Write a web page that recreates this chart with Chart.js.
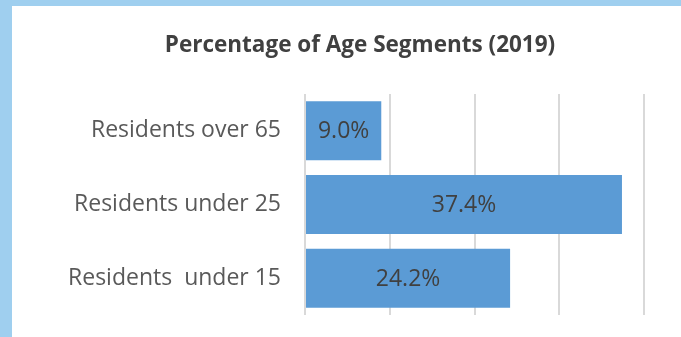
<!DOCTYPE html>
<html>
<head>
<meta charset="utf-8">
<script src="https://cdn.jsdelivr.net/npm/chart.js@4.4.0/dist/chart.umd.min.js"></script>
<style>
  html, body { margin: 0; padding: 0; background: #9fcfef; overflow: hidden; }
  #panel { position: absolute; left: 12px; top: 6px; width: 696px; height: 331px; background: #fff; }
</style>
</head>
<body>
<div id="panel"><canvas id="myChart" width="696" height="331"></canvas></div>
<script>
var chartTitle = 'Percentage of Age Segments (2019)';
var groups = ['Residents over 65', 'Residents under 25', 'Residents  under 15'];
var shares = [9.0, 37.4, 24.2];
var axisMax = 40;

// writes the value in the middle of each bar
var barLabels = {
  id: 'barLabels',
  afterDatasetsDraw: function (chart) {
    var c = chart.ctx;
    c.save();
    c.font = '23px "Open Sans"';
    c.fillStyle = '#404040';
    c.textAlign = 'center';
    c.textBaseline = 'middle';
    chart.getDatasetMeta(0).data.forEach(function (bar, i) {
      var p = bar.getProps(['x', 'y', 'base'], true);
      c.fillText(shares[i].toFixed(1) + '%', (p.x + p.base) / 2, p.y + 1);
    });
    c.restore();
  }
};

var ctx = document.getElementById('myChart').getContext('2d');
var chartOne = new Chart(ctx, {
  type: 'bar',
  data: {
    labels: groups,
    datasets: [{
      data: shares,
      backgroundColor: '#5b9bd5',
      borderWidth: 0,
      categoryPercentage: 0.8,
      barPercentage: 1.0
    }]
  },
  options: {
    indexAxis: 'y',
    responsive: false,
    animation: false,
    layout: { padding: { left: 0, right: 0, top: 0, bottom: 22 } },
    plugins: {
      legend: { display: false },
      tooltip: { enabled: false },
      title: {
        display: true,
        text: chartTitle,
        color: '#404040',
        font: { family: 'Open Sans', size: 22.5, weight: 'bold', lineHeight: 1.2 },
        padding: { top: 26, bottom: 35 }
      }
    },
    scales: {
      x: {
        min: 0,
        max: axisMax,
        ticks: { stepSize: 10, display: false },
        grid: { color: '#d9d9d9', lineWidth: 2, drawTicks: false },
        border: { display: false },
        afterFit: function (scale) { scale.height = 0; }
      },
      y: {
        ticks: { color: '#595959', padding: 24, font: { family: 'Open Sans', size: 23 } },
        grid: { display: false, drawTicks: false },
        border: { display: false },
        afterFit: function (scale) {
          scale.width = 293;
          scale.paddingTop = 0;
          scale.paddingBottom = 0;
        }
      },
      // empty right-hand axis, only keeps space free on the right
      yRight: {
        type: 'category',
        position: 'right',
        ticks: { display: false },
        grid: { display: false, drawTicks: false },
        border: { display: false },
        afterFit: function (scale) {
          scale.width = 64;
          scale.paddingTop = 0;
          scale.paddingBottom = 0;
        }
      }
    }
  },
  plugins: [barLabels]
});
</script>
</body>
</html>
